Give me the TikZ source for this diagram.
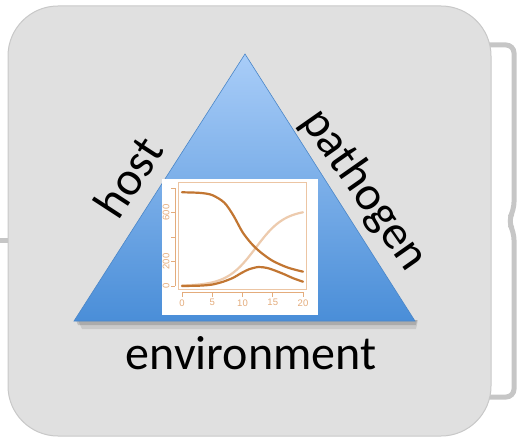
\documentclass[tikz,border=0pt]{standalone}
\usepackage{fontspec}
\setmainfont{Carlito}
\newfontfamily\axisfont{Liberation Sans}
\usetikzlibrary{positioning}

\definecolor{boxgray}{HTML}{E0E0E0}
\definecolor{boxedge}{HTML}{C8C8C8}
\definecolor{braceg}{HTML}{C6C6C6}
\definecolor{tritop}{HTML}{A9CDF8}
\definecolor{tribot}{HTML}{4A8ED8}
\definecolor{triedge}{HTML}{4A86C8}
\definecolor{curvedark}{HTML}{C27632}
\definecolor{curvelight}{HTML}{EDCBAE}
\definecolor{axisor}{HTML}{E4AC7C}

\begin{document}
\begin{tikzpicture}[x=1pt,y=-1pt,
    word/.style={font=\fontsize{48}{48}\selectfont, inner sep=0pt},
    axislbl/.style={font=\axisfont\fontsize{9.5}{9.5}\selectfont, text=axisor, inner sep=0pt},
    curve/.style={line width=2.2pt, line cap=round}]
    \useasboundingbox (0,0) rectangle (518,441);

    % the brace and the stub sit behind the panel
    \coordinate (bt) at (470,45);
    \coordinate (bb) at (470,397);
    \coordinate (stub) at (0,240);
    \draw[braceg, line width=5pt, rounded corners=8pt] (bt) -- (514,45) -- (514,210) -- (508,221) -- (514,232) -- (514,397) -- (bb);

    \node[draw=boxedge, fill=boxgray, line width=1pt, rounded corners=50pt, minimum width=483pt, minimum height=430pt, inner sep=0pt] (panel) at (249.5,221) {};
    \draw[braceg, line width=5pt] (stub) -- (stub -| panel.west);

    % triangle with its shadow
    \coordinate (apex) at (245,54);
    \coordinate (bl) at (74,321);
    \coordinate (br) at (415,321);
    \fill[black, opacity=0.10] (78,320) -- (418,320) -- (416,329) -- (82,329) -- cycle;
    \fill[black, opacity=0.15] (76,320) -- (417,320) -- (416,325) -- (78,325) -- cycle;
    \shade[top color=tritop, bottom color=tribot] (apex) -- (br) -- (bl) -- cycle;
    \draw[triedge, line width=0.6pt] (apex) -- (br) -- (bl) -- cycle;

    \node[word, rotate=57] (host) at (128,177) {host};
    \node[word, rotate=-55] (pathogen) at (364,190) {pathogen};
    \node[word] (env) at (251,353) {environment};

    % small epidemic plot
    \node[fill=white, minimum width=156pt, minimum height=136pt, inner sep=0pt] (plotbg) at (240,247) {};
    \begin{scope}[shift={(182,286)}, x=6.05pt, y=0.1225pt]
        \draw[axisor!70, line width=0.5pt] (-0.66,-24) rectangle (20.5,849);
        \draw[axisor, line width=0.7pt] (0,-49) -- (20,-49);
        \foreach \t in {0,5,...,20}
            \draw[axisor, line width=0.7pt] (\t,-49) -- (\t,-90) node[axislbl, below=2pt] {\t};
        \draw[axisor, line width=0.7pt] (-1.16,0) -- (-1.16,800);
        \foreach \v in {0,200,...,800}
            \draw[axisor, line width=0.7pt] (-1.16,\v) -- (-1.82,\v);
        \foreach \v in {0,200,600}
            \node[axislbl, rotate=90] at (-2.64,\v) {\v};

        \draw[curvelight, curve, domain=0:20, samples=60, smooth] plot (\x,{625/(1+exp(-(\x-12.2)/2.4))});
        \draw[curvedark, curve] plot[smooth] coordinates {(0,765) (3,760) (5,742) (7,680) (8.5,575) (10,440) (11.5,345) (13,275) (15,205) (17.5,150) (20,117)};
        \draw[curvedark, curve] plot[smooth] coordinates {(0,0) (3,3) (5,12) (6.8,35) (8.5,68) (9.6,100) (11,135) (12.6,155) (14,148) (15.1,131) (16.8,98) (18.4,63) (20,35)};
    \end{scope}
\end{tikzpicture}
\end{document}
